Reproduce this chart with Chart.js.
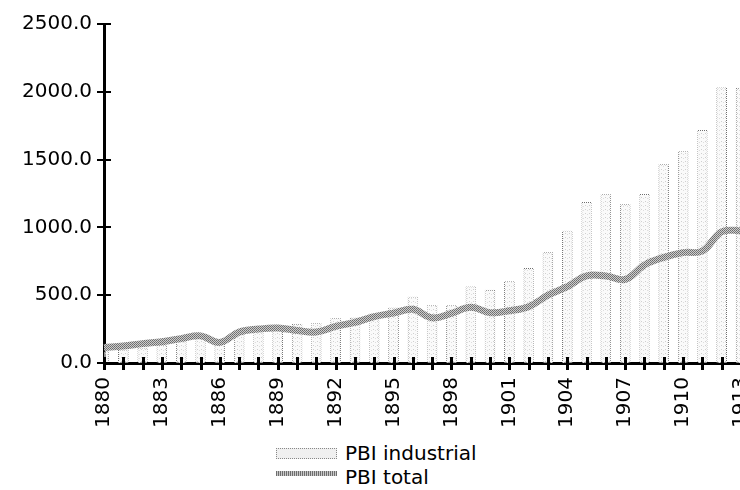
<!DOCTYPE html>
<html>
<head>
<meta charset="utf-8">
<script src="https://cdn.jsdelivr.net/npm/chart.js@4.4.1/dist/chart.umd.min.js"></script>
<style>
  html, body { margin: 0; padding: 0; background: #fff; overflow: hidden; }
  #wrap { position: relative; width: 780px; height: 490px; }
  #legend { position: absolute; left: 276px; top: 441px; font-family: "DejaVu Sans", sans-serif; font-size: 20px; color: #000; }
  .row { display: flex; align-items: center; height: 24px; }
  .sw { width: 61px; margin-right: 8px; box-sizing: border-box; }
  .sw.bar { height: 11px; border: 1px dotted #888; background: #f0f0f0; }
  .sw.line { height: 5px; margin-top: -8px; background: repeating-linear-gradient(90deg, #6e6e6e 0 1px, #c8c8c8 1px 2px); }
</style>
</head>
<body>
<div id="wrap">
  <canvas id="chart" width="779" height="440"></canvas>
  <div id="legend">
    <div class="row"><span class="sw bar"></span>PBI industrial</div>
    <div class="row"><span class="sw line"></span>PBI total</div>
  </div>
</div>
<script>
const years = ['1880', '1881', '1882', '1883', '1884', '1885', '1886', '1887', '1888', '1889',
    '1890', '1891', '1892', '1893', '1894', '1895', '1896', '1897', '1898', '1899',
    '1900', '1901', '1902', '1903', '1904', '1905', '1906', '1907', '1908', '1909',
    '1910', '1911', '1912', '1913'];

const pbiIndustrial = [90, 100, 115, 133, 160, 190, 165, 230, 260, 265,
    290, 295, 330, 335, 365, 410, 489, 428, 428, 565,
    540, 605, 700, 816, 976, 1188, 1245, 1170, 1246, 1465,
    1563, 1718, 2033, 2030];

const pbiTotal = [115, 125, 143, 157, 180, 200, 152, 228, 250, 258,
    240, 228, 270, 300, 342, 368, 396, 333, 366, 411,
    371, 385, 415, 500, 563, 642, 642, 617, 723, 779,
    814, 826, 968, 976];

const yTicks = [0, 500, 1000, 1500, 2000, 2500];

// petits motifs pour imiter le tramage gris de l'original
function makePattern(size, pixels, bg) {
    const c = document.createElement('canvas');
    c.width = size; c.height = size;
    const g = c.getContext('2d');
    if (bg) { g.fillStyle = bg; g.fillRect(0, 0, size, size); }
    pixels.forEach(p => { g.fillStyle = p[2]; g.fillRect(p[0], p[1], 1, 1); });
    return g.createPattern(c, 'repeat');
}

const ctx = document.getElementById('chart').getContext('2d');
const lineFill = makePattern(2, [[0, 0, '#6c6c6c'], [1, 1, '#7a7a7a']], '#cdcdcd');
const barBorder = makePattern(2, [[0, 0, '#6f6f6f'], [1, 1, '#b8b8b8']]);
const barFill = makePattern(4, [[1, 1, '#d0d0d0'], [3, 2, '#dedede']], 'rgba(246,246,246,0.6)');

// petites graduations qui traversent les axes
const crossTicks = {
    id: 'crossTicks',
    afterDraw(chart) {
        const { ctx, chartArea, scales: { x, y } } = chart;
        ctx.save();
        ctx.strokeStyle = '#000';
        ctx.lineWidth = 3;
        ctx.beginPath();
        x.ticks.forEach((t, i) => {
            const px = Math.round(x.getPixelForTick(i)) + 0.5;
            ctx.moveTo(px, chartArea.bottom - 6);
            ctx.lineTo(px, chartArea.bottom + 7);
        });
        ctx.stroke();
        ctx.lineWidth = 2;
        ctx.beginPath();
        y.ticks.forEach((t, i) => {
            const py = Math.round(y.getPixelForTick(i));
            ctx.moveTo(chartArea.left - 7, py);
            ctx.lineTo(chartArea.left + 7, py);
        });
        ctx.stroke();
        ctx.restore();
    }
};

new Chart(ctx, {
    data: {
        labels: years,
        datasets: [{
            type: 'line',
            label: 'PBI total',
            data: pbiTotal,
            borderColor: lineFill,
            borderWidth: 7,
            tension: 0.4,
            pointRadius: 0,
            fill: false,
            order: 0
        }, {
            type: 'bar',
            label: 'PBI industrial',
            data: pbiIndustrial,
            backgroundColor: barFill,
            borderColor: barBorder,
            borderWidth: 1,
            barPercentage: 0.55,
            categoryPercentage: 1,
            order: 1
        }]
    },
    options: {
        responsive: false,
        animation: false,
        layout: { padding: { top: 24, right: 19, left: 0, bottom: 0 } },
        plugins: {
            legend: { display: false },
            tooltip: { enabled: false }
        },
        scales: {
            x: {
                offset: false,
                grid: { display: false, drawTicks: false },
                border: { display: true, color: '#000', width: 3 },
                ticks: {
                    autoSkip: false,
                    minRotation: 90,
                    maxRotation: 90,
                    padding: 14,
                    color: '#000',
                    font: { family: 'DejaVu Sans', size: 20 },
                    callback: (v, i) => (i % 3 === 0 ? years[i] : '')
                },
                afterFit: s => { s.height = 77; }
            },
            y: {
                min: 0,
                max: 2500,
                afterBuildTicks: s => { s.ticks = yTicks.map(v => ({ value: v })); },
                grid: { display: false, drawTicks: false },
                border: { display: true, color: '#000', width: 3 },
                ticks: {
                    padding: 12,
                    color: '#000',
                    font: { family: 'DejaVu Sans', size: 20 },
                    callback: v => Number(v).toFixed(1)
                },
                afterFit: s => { s.width = 104; }
            }
        }
    },
    plugins: [crossTicks]
});
</script>
</body>
</html>
